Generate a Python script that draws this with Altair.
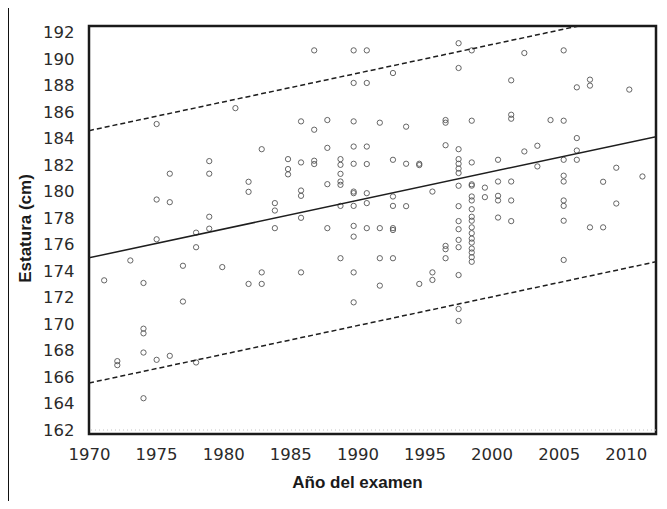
import altair as alt
import pandas as pd

# x positions of the point columns, read on the printed year axis
col_year = [1971.13, 1972.11, 1973.08, 1974.06, 1975.04, 1976.02, 1977.00, 1977.98, 1978.96, 1979.93,
            1980.91, 1981.89, 1982.87, 1983.85, 1984.83, 1985.80, 1986.78, 1987.76, 1988.74, 1989.72,
            1990.70, 1991.67, 1992.65, 1993.63, 1994.61, 1995.59, 1996.57, 1997.54, 1998.52, 1999.50,
            2000.48, 2001.46, 2002.44, 2003.41, 2004.39, 2005.37, 2006.35, 2007.33, 2008.31, 2009.29,
            2010.26, 2011.24]

# heights (cm) of the points in each column
col_heights = [
    [173.3],
    [167.2, 166.9],
    [174.8],
    [173.1, 169.65, 169.3, 167.85, 164.4],
    [185.1, 179.4, 176.4, 167.3],
    [181.35, 179.2, 167.6],
    [174.4, 171.7],
    [176.9, 175.8, 167.1],
    [182.3, 181.35, 178.1, 177.2],
    [174.3],
    [186.3],
    [180.74, 179.98, 173.03],
    [183.2, 173.9, 173.03],
    [179.13, 178.57, 177.24],
    [182.45, 181.7, 181.3],
    [185.3, 182.2, 180.08, 179.68, 178.02, 173.9],
    [190.66, 184.67, 182.33, 182.08],
    [185.4, 183.3, 180.56, 177.24],
    [182.45, 182.02, 181.34, 180.76, 180.51, 178.92, 174.97],
    [190.66, 188.2, 185.3, 183.4, 182.1, 180.0, 179.88, 178.92, 177.41, 176.6, 173.9, 171.64],
    [190.66, 188.2, 183.4, 182.08, 179.88, 179.13, 177.24],
    [185.2, 177.24, 174.97, 172.9],
    [188.95, 182.4, 179.63, 178.92, 177.24, 177.1, 174.97],
    [184.9, 182.1, 178.9],
    [182.1, 182.0, 173.03],
    [180.0, 173.9, 173.33],
    [185.4, 185.2, 183.5, 175.9, 175.65, 174.97],
    [191.2, 189.33, 183.2, 182.45, 182.1, 181.74, 181.4, 180.44, 178.9, 177.77, 177.16,
     176.35, 175.8, 173.7, 171.14, 170.23],
    [190.66, 185.35, 182.2, 180.55, 180.45, 179.63, 179.33, 178.67, 178.1, 177.8, 177.3,
     176.86, 176.45, 176.15, 175.7, 175.4, 175.05, 174.7],
    [180.3, 179.58],
    [182.4, 180.76, 179.68, 179.33, 178.04],
    [188.4, 185.8, 185.5, 180.76, 179.33, 177.77],
    [190.46, 183.03],
    [183.46, 181.9],
    [185.4],
    [190.66, 185.35, 182.4, 181.2, 180.76, 179.33, 178.92, 177.8, 174.84],
    [187.87, 184.04, 183.1, 182.4],
    [188.45, 188.0, 177.3],
    [180.74, 177.3],
    [181.8, 179.1],
    [187.7],
    [181.14],
]

# regression line and prediction band (end points)
line_year = [1970, 2012.25]
fit_cm = [175.0, 184.15]
upper_cm = [184.6, 193.75]
lower_cm = [165.55, 174.7]

x_ticks = [1970, 1975, 1980, 1985, 1990, 1995, 2000, 2005, 2010]
y_ticks = [162, 164, 166, 168, 170, 172, 174, 176, 178, 180, 182, 184, 186, 188, 190, 192]

rows = [(y, h) for y, hs in zip(col_year, col_heights) for h in hs]
pts = pd.DataFrame(rows, columns=["year", "height"])
lines = pd.DataFrame({"year": line_year, "fit": fit_cm, "upper": upper_cm, "lower": lower_cm})

LABEL_FONT = "DejaVu Sans"
TITLE_FONT = "Liberation Sans"

xs = alt.Scale(domain=[1970, 2012.25], nice=False, zero=False)
ys = alt.Scale(domain=[161.7, 192.5], nice=False, zero=False)

x_axis = alt.Axis(values=x_ticks, format="d", ticks=False, tickSize=0, domain=False, grid=False,
                  labelOverlap=False, labelFlush=False, labelBound=False,
                  labelFont=LABEL_FONT, labelFontSize=16.5, labelColor="#2a2a2a", labelPadding=12,
                  title="Año del examen", titleFont=TITLE_FONT, titleFontSize=17,
                  titleFontWeight="bold", titleColor="#1a1a1a",
                  titleX=268, titleY=48, titleBaseline="middle", titleAlign="center")
y_axis = alt.Axis(values=y_ticks, format="d", ticks=False, tickSize=0, domain=False, grid=False,
                  labelOverlap=False, labelFlush=False, labelBound=False, labelSeparation=0,
                  labelFont=LABEL_FONT, labelFontSize=16.5, labelColor="#2a2a2a", labelPadding=15,
                  title="Estatura (cm)", titleFont=TITLE_FONT, titleFontSize=17,
                  titleFontWeight="bold", titleColor="#1a1a1a",
                  titleX=-64, titleY=202, titleAngle=-90, titleBaseline="middle", titleAlign="center")

frame = alt.Chart(pd.DataFrame({"a": [0]})).mark_rect(
    fillOpacity=0, stroke="#111111", strokeWidth=2
).encode(x=alt.value(-81), x2=alt.value(700), y=alt.value(-19), y2=alt.value(700))

points = alt.Chart(pts).mark_point(
    shape="circle", filled=False, size=28, strokeWidth=0.9, color="#555555", opacity=1
).encode(
    x=alt.X("year:Q", scale=xs, axis=x_axis),
    y=alt.Y("height:Q", scale=ys, axis=y_axis),
)

grid162 = alt.Chart(pd.DataFrame({"v": [162]})).mark_rule(
    color="#c4c4c4", strokeDash=[1, 3], strokeWidth=1
).encode(y=alt.Y("v:Q", scale=ys, axis=y_axis))

base = alt.Chart(lines)
fit = base.mark_line(color="#1e1e1e", strokeWidth=1.5, clip=True).encode(
    x=alt.X("year:Q", scale=xs, axis=x_axis), y=alt.Y("fit:Q", scale=ys, axis=y_axis))
up = base.mark_line(color="#1e1e1e", strokeWidth=1.5, strokeDash=[5, 3], clip=True).encode(
    x=alt.X("year:Q", scale=xs, axis=x_axis), y=alt.Y("upper:Q", scale=ys, axis=y_axis))
lo = base.mark_line(color="#1e1e1e", strokeWidth=1.5, strokeDash=[5, 3], clip=True).encode(
    x=alt.X("year:Q", scale=xs, axis=x_axis), y=alt.Y("lower:Q", scale=ys, axis=y_axis))

chart = alt.layer(frame, points, grid162, fit, up, lo).properties(
    width=567, height=408,
    autosize=alt.AutoSizeParams(type="none"),
    padding={"left": 81, "top": 18, "right": 3, "bottom": 67},
    background="white",
).configure_view(stroke="#1a1a1a", strokeWidth=2.5).configure_axis(labelOverlap=False)

chart.save("out.html", embed_options={"renderer": "svg", "actions": False})
